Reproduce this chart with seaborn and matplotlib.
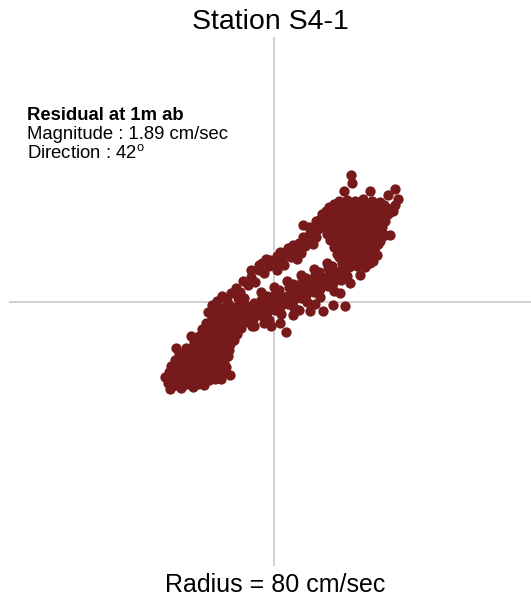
import matplotlib
matplotlib.use("Agg")
import matplotlib.pyplot as plt
import seaborn as sns
import pandas as pd

# Near-bottom current samples (east, north) in cm/sec, grouped by part of the cloud
sw_cluster = [
    (-32.0, -24.5), (-31.2, -26.0), (-29.5, -25.4), (-28.0, -26.2), (-26.4, -25.0), (-24.6, -25.8), (-22.8, -24.9), (-21.0, -25.3),
    (-33.0, -22.8), (-30.6, -23.6), (-28.8, -22.9), (-27.1, -23.8), (-25.3, -23.2), (-23.5, -23.9), (-21.7, -23.0), (-19.6, -23.8), (-17.8, -23.3), (-16.0, -23.4),
    (-31.8, -21.4), (-29.9, -21.0), (-28.0, -21.7), (-26.2, -21.1), (-24.4, -21.8), (-22.6, -21.2), (-20.7, -21.9), (-18.9, -21.3), (-17.0, -22.0), (-15.1, -21.5), (-13.4, -22.2),
    (-31.0, -19.6), (-29.2, -19.2), (-27.4, -19.8), (-25.6, -19.4), (-23.8, -20.0), (-21.9, -19.5), (-20.1, -20.1), (-18.2, -19.6), (-16.4, -20.2), (-14.6, -19.7),
    (-29.8, -17.6), (-28.0, -18.1), (-26.2, -17.5), (-24.4, -18.2), (-22.5, -17.7), (-20.7, -18.3), (-18.8, -17.8), (-17.0, -18.4), (-15.2, -17.9), (-14.0, -16.4),
    (-28.6, -16.0), (-26.8, -15.6), (-25.0, -16.3), (-23.2, -15.8), (-21.3, -16.4), (-19.5, -15.9), (-17.6, -16.5), (-15.8, -16.0), (-13.6, -14.8),
    (-26.5, -14.2), (-24.7, -13.8), (-22.9, -14.4), (-21.0, -13.9), (-19.2, -14.5), (-17.3, -14.0), (-15.5, -14.6), (-13.2, -13.0),
    (-24.2, -12.0), (-22.4, -12.5), (-20.5, -12.0), (-18.7, -12.6), (-16.8, -12.1), (-15.0, -12.7), (-12.0, -11.6),
    (-22.6, -10.4), (-20.8, -10.0), (-19.0, -10.6), (-17.1, -10.1), (-15.3, -10.7), (-13.5, -10.2), (-11.2, -9.8),
    (-21.6, -8.4), (-19.8, -8.9), (-18.0, -8.3), (-16.1, -8.8), (-14.3, -8.3), (-12.4, -8.9), (-10.0, -8.0),
    (-20.4, -6.6), (-18.5, -7.0), (-16.6, -6.5), (-14.8, -7.1), (-12.9, -6.6), (-11.0, -7.2),
    (-18.8, -4.9), (-16.9, -5.3), (-15.0, -4.8), (-13.1, -5.4), (-11.3, -5.0),
    (-29.6, -14.1), (-25.1, -10.5), (-31.5, -26.6),
    (-17.5, -3.0), (-15.5, -2.0), (-13.0, -3.0), (-11.0, -3.5),
]

upper_branch = [
    (-20.0, -3.2), (-18.6, -1.0), (-17.2, 0.3), (-15.8, 1.6), (-14.2, 0.2), (-13.0, 2.6), (-11.6, 4.2),
    (-10.2, 3.0), (-9.4, 6.2), (-8.0, 5.0), (-6.8, 7.4), (-5.6, 5.8), (-4.6, 9.6), (-3.6, 11.6), (-3.0, 8.6),
    (-1.6, 10.8), (-1.2, 12.6), (0.2, 11.2), (0.8, 13.8), (1.8, 15.0), (2.4, 12.4), (3.4, 14.4), (4.2, 16.2),
    (5.0, 13.6), (5.8, 17.0), (6.6, 15.2), (7.4, 17.8), (8.2, 14.8), (8.8, 19.4), (9.4, 16.8), (10.4, 18.6),
    (11.0, 20.6), (11.8, 17.4), (12.6, 19.6), (13.2, 22.0), (8.8, 23.2), (12.8, 24.2), (10.6, 22.6),
    (-2.4, 12.8), (-4.4, 11.0), (-12.0, -2.0), (-10.5, -0.5), (-8.6, -1.6), (-9.0, 1.2),
    (-16.5, -2.5), (-13.5, -1.0), (-11.0, 1.0), (-7.0, 9.6), (1.0, 9.6), (3.0, 11.0), (6.8, 12.8),
]

lower_branch = [
    (-10.2, -7.0), (-9.6, -4.6), (-10.0, -2.4), (-8.0, -6.2), (-7.6, -3.8), (-8.2, -1.4),
    (-6.2, -5.2), (-5.8, -2.8), (-6.0, -0.4), (-4.2, -4.2), (-3.8, -1.8), (-4.0, 0.6),
    (-2.2, -3.4), (-1.8, -0.8), (-2.0, 1.6), (0.2, -2.6), (-0.2, 0.0), (0.4, 2.4),
    (1.8, -1.8), (2.2, 1.0), (1.6, 3.4), (4.2, -0.8), (3.8, 1.8), (4.4, 4.4),
    (5.8, 0.2), (6.2, 2.8), (5.6, 5.2), (8.2, 1.2), (7.8, 3.8), (8.4, 6.2),
    (9.8, 2.0), (10.2, 4.6), (9.6, 7.2), (12.2, 3.0), (11.8, 5.6), (12.4, 8.0),
    (13.8, 3.8), (14.2, 6.4), (13.6, 9.0), (16.2, 4.8), (15.8, 7.4), (16.4, 10.0),
    (17.8, 5.6), (18.2, 8.2), (17.6, 10.8), (20.2, 6.6), (19.8, 9.2), (20.4, 11.6),
    (22.0, 7.6), (21.6, 10.4),
    (-9.0, -5.6), (-7.0, -4.8), (-5.0, -3.6), (-3.0, -2.6), (-1.0, -1.8), (1.0, -0.6), (3.0, 0.4),
    (5.0, 1.4), (7.0, 2.2), (9.0, 3.4), (11.0, 4.0), (13.0, 5.0), (15.0, 5.8), (17.0, 7.0),
    (19.0, 7.6), (21.0, 8.8), (1.0, 2.2), (5.0, 3.8), (9.0, 5.6), (13.0, 7.4), (17.0, 9.4),
    (-4.0, 2.8), (0.0, 4.5), (4.0, 6.2), (8.0, 8.0), (12.0, 9.8), (16.0, 11.6), (19.6, 13.4),
    (-6.0, -7.4), (-2.0, -5.6), (2.0, -3.8), (6.0, -2.0), (10.0, -0.2), (14.0, 1.5), (18.0, 3.2),
    (-1.4, -5.6), (5.7, -4.0), (10.8, -3.0), (14.8, -3.0), (17.8, -1.0), (21.3, -1.5),
    (19.8, 2.5), (22.9, 5.5), (7.5, -2.5), (12.5, -0.8), (-6.5, -7.5),
    (-3.0, -6.6), (-0.8, -7.4), (1.8, -6.4), (3.6, -9.2),
]

ne_cluster = [
    (19.5, 30.5), (22.0, 30.8), (24.5, 30.3), (27.0, 30.9), (29.5, 30.4), (32.0, 30.1),
    (16.5, 28.5), (19.0, 28.2), (21.5, 28.8), (24.0, 28.3), (26.5, 28.7), (29.0, 28.2), (31.5, 28.6), (34.0, 28.4),
    (14.5, 26.5), (17.0, 26.2), (19.5, 26.8), (22.0, 26.3), (24.5, 26.7), (27.0, 26.2), (29.5, 26.8), (32.0, 26.3), (34.5, 26.6),
    (13.5, 24.5), (16.0, 24.8), (18.5, 24.3), (21.0, 24.7), (23.5, 24.2), (26.0, 24.8), (28.5, 24.3), (31.0, 24.6), (33.5, 24.4),
    (15.0, 22.5), (17.5, 22.2), (20.0, 22.8), (22.5, 22.3), (25.0, 22.7), (27.5, 22.2), (30.0, 22.8), (32.5, 22.4),
    (16.0, 20.5), (18.5, 20.8), (21.0, 20.3), (23.5, 20.7), (26.0, 20.2), (28.5, 20.6), (31.0, 20.3), (33.5, 20.1),
    (17.0, 18.5), (19.5, 18.2), (22.0, 18.8), (24.5, 18.3), (27.0, 18.7), (29.5, 18.2), (32.0, 18.4),
    (18.0, 16.5), (20.5, 16.8), (23.0, 16.3), (25.5, 16.7), (28.0, 16.2), (30.5, 16.6),
    (19.0, 14.5), (21.5, 14.2), (24.0, 14.8), (26.5, 14.3), (29.0, 14.7), (31.0, 14.2),
    (20.5, 12.5), (23.0, 12.8), (25.5, 12.3), (28.0, 12.7), (30.0, 12.3),
    (22.5, 10.5), (25.0, 10.8), (27.5, 10.3),
    (18.0, 29.5), (20.7, 29.5), (23.2, 29.4), (25.8, 29.6), (28.3, 29.4), (30.8, 29.5), (33.2, 29.3),
    (15.7, 27.5), (18.2, 27.4), (20.7, 27.6), (23.2, 27.5), (25.8, 27.4), (28.2, 27.6), (30.7, 27.5), (33.2, 27.4), (35.2, 27.6),
    (15.2, 25.5), (17.7, 25.6), (20.2, 25.4), (22.8, 25.5), (25.3, 25.6), (27.8, 25.4), (30.3, 25.5), (32.8, 25.6),
    (14.2, 23.5), (16.7, 23.4), (19.2, 23.6), (21.8, 23.5), (24.3, 23.4), (26.8, 23.6), (29.3, 23.5), (31.8, 23.4),
    (16.2, 21.5), (18.7, 21.6), (21.2, 21.4), (23.8, 21.5), (26.3, 21.6), (28.8, 21.4), (31.3, 21.5),
    (17.2, 19.5), (19.7, 19.4), (22.2, 19.6), (24.8, 19.5), (27.3, 19.4), (29.8, 19.6), (32.3, 19.5),
    (18.7, 17.5), (21.2, 17.6), (23.8, 17.4), (26.3, 17.5), (28.8, 17.6), (31.3, 17.4),
    (20.0, 15.5), (22.6, 15.6), (25.2, 15.4), (27.7, 15.5), (30.0, 15.6),
    (21.5, 13.5), (24.2, 13.4), (26.8, 13.6), (29.3, 13.5),
    (23.8, 11.5), (26.2, 11.6),
    (23.2, 38.2), (23.4, 35.7), (21.1, 33.5), (28.9, 33.4), (36.5, 34.0), (37.3, 31.0),
    (34.4, 32.2), (36.0, 27.5), (34.9, 20.1), (28.9, 11.6), (25.9, 8.0), (36.6, 29.2),
]

groups = (sw_cluster, upper_branch, lower_branch, ne_cluster)
east = [p[0] for grp in groups for p in grp]
north = [p[1] for grp in groups for p in grp]
df = pd.DataFrame({"east": east, "north": north})

radius = 80  # cm/sec, half-length of the reference cross
station = "Station S4-1"
residual_lines = ["Residual at 1m ab", "Magnitude : 1.89 cm/sec", "Direction : 42$^{\\mathrm{o}}$"]

sns.set_theme(style="white")
plt.rcParams["font.family"] = ["Liberation Sans", "DejaVu Sans"]
plt.rcParams["mathtext.fontset"] = "custom"
plt.rcParams["mathtext.rm"] = "Liberation Sans"
plt.rcParams["text.color"] = "black"

W, H = 531, 598
fig = plt.figure(figsize=(W / 100, H / 100), dpi=100)
fig.patch.set_facecolor("white")

# square plotting area spanning the full radius in each direction
ax = fig.add_axes([9 / W, (H - 566) / H, 530 / W, 529 / H])
ax.set_xlim(-radius, radius)
ax.set_ylim(-radius, radius)
ax.axhline(0, color="#c8c8c8", lw=1.2, zorder=1)
ax.axvline(0, color="#c8c8c8", lw=1.2, zorder=1)

sns.scatterplot(data=df, x="east", y="north", ax=ax, color="#761a1b",
                s=55, linewidth=0, alpha=1, zorder=3, legend=False)
ax.set_axis_off()

fig.text(270 / W, 1 - 29.3 / H, station, ha="center", va="baseline", fontsize=20.5)
fig.text(275 / W, 1 - 592.5 / H, f"Radius = {radius} cm/sec", ha="center", va="baseline", fontsize=18)

baselines = [120, 139.3, 158.3]
for i, (txt, yb) in enumerate(zip(residual_lines, baselines)):
    fig.text(27 / W, 1 - yb / H, txt, ha="left", va="baseline", fontsize=13.3,
             fontweight="bold" if i == 0 else "normal")

fig.savefig("out.png", dpi=100, facecolor="white")
